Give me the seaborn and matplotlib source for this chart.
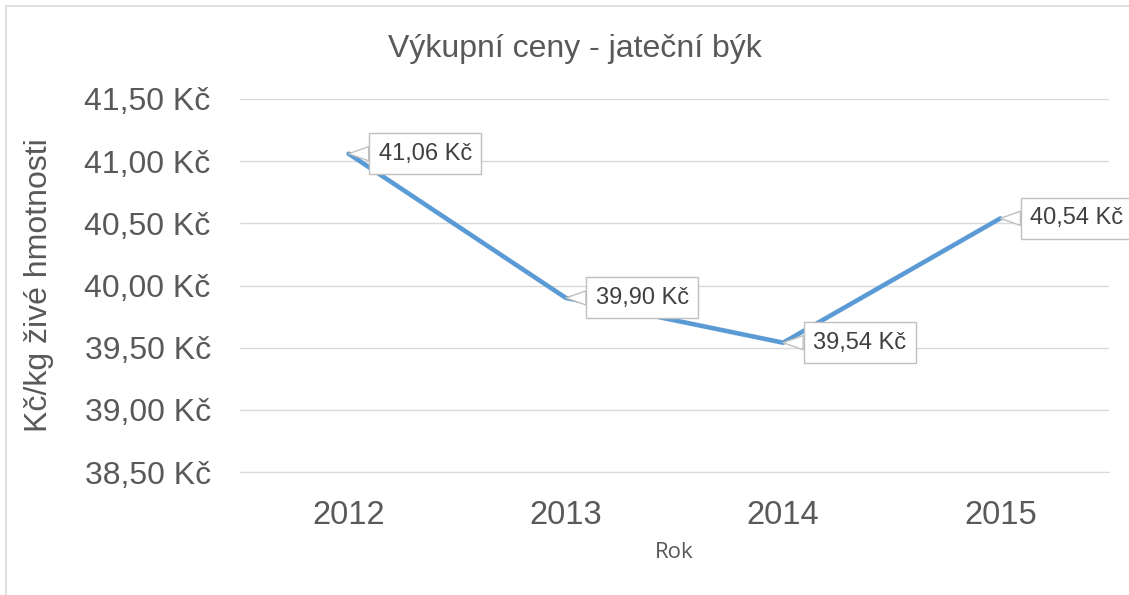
import matplotlib
matplotlib.use("Agg")
import matplotlib.pyplot as plt
import matplotlib.patches as patches
import seaborn as sns
import pandas as pd

# data
years = ["2012", "2013", "2014", "2015"]
prices = [41.06, 39.90, 39.54, 40.54]
price_labels = ["41,06 Kč", "39,90 Kč", "39,54 Kč", "40,54 Kč"]
y_ticks = [38.5, 39.0, 39.5, 40.0, 40.5, 41.0, 41.5]
y_tick_labels = ["38,50 Kč", "39,00 Kč", "39,50 Kč", "40,00 Kč", "40,50 Kč", "41,00 Kč", "41,50 Kč"]

df = pd.DataFrame({"Rok": years, "Cena": prices})

sns.set_style("white")
plt.rcParams['font.family'] = ['Liberation Sans', 'DejaVu Sans']

fig = plt.figure(figsize=(11.29, 5.95), dpi=100)
ax = fig.add_axes([240 / 1129, 1 - 472 / 595, 869 / 1129, 373 / 595])

# chart frame (only left and top edges are visible in the crop)
fig.patches.append(patches.Rectangle((6 / 1129, -0.2), 1.2, 1.2 - 6 / 595,
                                     transform=fig.transFigure, fill=False,
                                     ec="#D9D9D9", lw=1.2, zorder=0))

sns.lineplot(data=df, x="Rok", y="Cena", ax=ax, color="#5B9BD5", linewidth=3.3, sort=False)

ax.set_xlim(-0.5, 3.5)
ax.set_ylim(38.5, 41.5)
ax.set_yticks(y_ticks)
ax.set_yticklabels(y_tick_labels)
ax.grid(axis="y", color="#D9D9D9", linewidth=1)
ax.set_axisbelow(True)
for s in ["top", "right", "left"]:
    ax.spines[s].set_visible(False)
ax.spines["bottom"].set_color("#D9D9D9")
ax.tick_params(axis="y", length=0, labelsize=23, colors="#595959", pad=21)
ax.tick_params(axis="x", length=0, labelsize=23.5, colors="#595959", pad=20)

ax.set_xlabel("Rok", fontsize=16, color="#595959", family=["Open Sans", "DejaVu Sans"], labelpad=8)
ax.set_ylabel("Kč/kg živé hmotnosti", fontsize=23, color="#595959", labelpad=22)
fig.text(575 / 1129, 1 - 49 / 595, "Výkupní ceny - jateční býk", ha="center", va="center",
         fontsize=23, color="#595959")

# data labels with callouts
for i, (v, lab) in enumerate(zip(prices, price_labels)):
    ax.annotate(lab, xy=(i, v), xytext=(30, 0), textcoords="offset pixels",
                ha="left", va="center", fontsize=17, color="#404040",
                bbox=dict(boxstyle="square,pad=0.4", fc="white", ec="#BFBFBF", lw=1),
                arrowprops=dict(arrowstyle="wedge,tail_width=0.6", fc="white", ec="#BFBFBF",
                                lw=1, shrinkA=0, shrinkB=0),
                annotation_clip=False)

fig.savefig("out.png", dpi=100)
